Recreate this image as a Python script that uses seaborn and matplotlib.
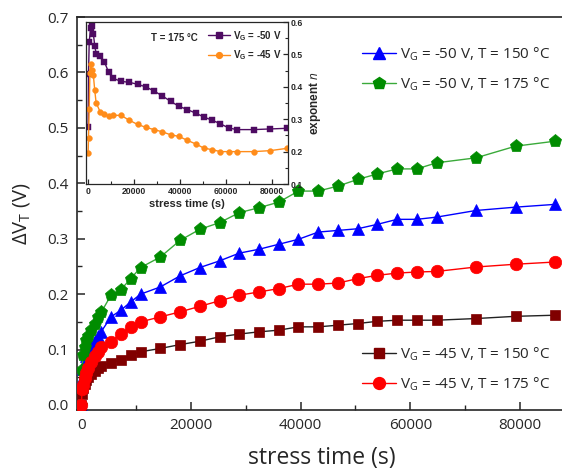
import numpy as np
import pandas as pd
import matplotlib
matplotlib.use("Agg")
import matplotlib.pyplot as plt
import seaborn as sns
from matplotlib.lines import Line2D
from matplotlib.ticker import MultipleLocator

# waktu stress (s)
t_early = [0, 120, 300, 600, 900, 1200, 1800, 2400, 3000, 3600]
t_late = [5400, 7200, 9000, 10800, 14400, 18000, 21600, 25200, 28800, 32400, 36000,
          39600, 43200, 46800, 50400, 54000, 57600, 61200, 64800, 72000, 79200, 86400]
time_main = t_early + t_late

# delta V_T (V)
dvt_45_150 = [0, 0.02, 0.03, 0.038, 0.045, 0.05, 0.056, 0.062, 0.067, 0.07,
              0.076, 0.082, 0.09, 0.096, 0.102, 0.109, 0.115, 0.123, 0.128, 0.132, 0.135,
              0.141, 0.141, 0.144, 0.147, 0.151, 0.153, 0.153, 0.153, 0.156, 0.16, 0.162]
dvt_45_175 = [0, 0.028, 0.036, 0.048, 0.058, 0.067, 0.078, 0.088, 0.096, 0.104,
              0.114, 0.129, 0.14, 0.15, 0.159, 0.168, 0.178, 0.188, 0.198, 0.204, 0.21,
              0.218, 0.218, 0.22, 0.228, 0.234, 0.238, 0.24, 0.241, 0.249, 0.254, 0.258]
dvt_50_150 = [0, 0.047, 0.065, 0.078, 0.088, 0.096, 0.105, 0.115, 0.125, 0.132,
              0.159, 0.171, 0.186, 0.2, 0.213, 0.233, 0.248, 0.26, 0.274, 0.281, 0.29,
              0.299, 0.312, 0.315, 0.318, 0.326, 0.335, 0.335, 0.339, 0.351, 0.357, 0.362]
dvt_50_175 = [0, 0.064, 0.09, 0.105, 0.117, 0.125, 0.135, 0.147, 0.158, 0.167,
              0.198, 0.208, 0.228, 0.248, 0.267, 0.297, 0.317, 0.329, 0.347, 0.356, 0.366,
              0.386, 0.386, 0.395, 0.407, 0.417, 0.426, 0.426, 0.437, 0.446, 0.467, 0.476]

# eksponen n (inset, T = 175 C)
t_n50 = [120, 300, 600, 1200, 1800, 2400, 3000, 3600] + t_late
n_50 = [0.277, 0.439, 0.538, 0.581, 0.588, 0.564, 0.527, 0.503,
        0.494, 0.477, 0.446, 0.427, 0.417, 0.414, 0.408, 0.4, 0.387, 0.372, 0.355,
        0.34, 0.33, 0.319, 0.307, 0.297, 0.286, 0.273, 0.268, 0.268, 0.27, 0.272]
t_n45 = [120, 300, 600, 900, 1200, 1800, 2400, 3000, 3600] + t_late
n_45 = [0.195, 0.242, 0.332, 0.444, 0.47, 0.452, 0.436, 0.39, 0.351,
        0.322, 0.315, 0.309, 0.312, 0.312, 0.297, 0.284, 0.275, 0.268, 0.261, 0.252,
        0.247, 0.235, 0.224, 0.211, 0.206, 0.2, 0.2, 0.2, 0.2, 0.203, 0.21]

sns.set_theme(style="ticks")
plt.rcParams.update({
    'font.family': ['Open Sans', 'DejaVu Sans'],
    'mathtext.fontset': 'custom',
    'mathtext.rm': 'Open Sans',
    'mathtext.it': 'Open Sans:italic',
    'xtick.direction': 'in',
    'ytick.direction': 'in',
    'axes.linewidth': 1.2,
})

fig = plt.figure(figsize=(5.62, 4.70), dpi=100)
ax = fig.add_axes([0.137, 0.1277, 0.87, 0.836])

series = [
    (dvt_50_150, '^', '#0000FF', '#0000FF', 9, r'V$_\mathregular{G}$ = -50 V, T = 150 °C'),
    (dvt_50_175, 'p', '#008C00', '#3AAA3A', 9.5, r'V$_\mathregular{G}$ = -50 V, T = 175 °C'),
    (dvt_45_150, 's', '#800000', '#222222', 7.5, r'V$_\mathregular{G}$ = -45 V, T = 150 °C'),
    (dvt_45_175, 'o', '#FF0000', '#FF0000', 9, r'V$_\mathregular{G}$ = -45 V, T = 175 °C'),
]
handles = []
for vals, mk, mc, lc, ms, lab in series:
    sns.lineplot(x=time_main, y=vals, ax=ax, color=lc, marker=mk, markersize=ms,
                 markerfacecolor=mc, markeredgecolor=mc, markeredgewidth=0.5,
                 linewidth=1.0, estimator=None, zorder=3)
    handles.append(Line2D([], [], color=lc, marker=mk, markersize=ms * 0.95,
                          markerfacecolor=mc, markeredgecolor=mc, linewidth=1.0, label=lab))

ax.set_xlim(-800, 88400)
ax.set_ylim(-0.009, 0.7)
ax.xaxis.set_major_locator(MultipleLocator(20000))
ax.xaxis.set_minor_locator(MultipleLocator(10000))
ax.yaxis.set_major_locator(MultipleLocator(0.1))
ax.yaxis.set_minor_locator(MultipleLocator(0.05))
ax.yaxis.set_major_formatter(plt.FormatStrFormatter('%.1f'))
ax.tick_params(which='major', length=6, width=1.1, labelsize=11, pad=6)
ax.tick_params(which='minor', length=3.5, width=1.0)
ax.tick_params(top=False, right=False, which='both')
ax.spines['right'].set_visible(False)
ax.set_xlabel('stress time (s)', fontsize=16.5, labelpad=9)
ax.set_ylabel(r'ΔV$_\mathregular{T}$ (V)', fontsize=14.5, labelpad=11)

leg1 = ax.legend(handles=handles[:2], loc='upper left', bbox_to_anchor=(0.555, 0.963),
                 frameon=False, fontsize=11, handlelength=2.2, handletextpad=0.3,
                 labelspacing=0.85)
ax.add_artist(leg1)
ax.legend(handles=handles[2:], loc='upper left', bbox_to_anchor=(0.555, 0.2),
          frameon=False, fontsize=11, handlelength=2.2, handletextpad=0.3,
          labelspacing=0.85)

# inset eksponen n
axin = fig.add_axes([0.153, 0.6085, 0.3595, 0.3445])
bold = {'family': ['Liberation Sans', 'DejaVu Sans'], 'weight': 'bold'}
sns.lineplot(x=t_n50, y=n_50, ax=axin, color='#4E0B62', marker='s', markersize=3.8,
             markeredgecolor='#4E0B62', markeredgewidth=0.3, linewidth=1.0, estimator=None)
sns.lineplot(x=t_n45, y=n_45, ax=axin, color='#FF8C1A', marker='o', markersize=4.2,
             markeredgecolor='#FF8C1A', markeredgewidth=0.3, linewidth=1.0, estimator=None)
axin.set_xlim(-800, 87000)
axin.set_ylim(0.1, 0.6)
axin.xaxis.set_major_locator(MultipleLocator(20000))
axin.xaxis.set_minor_locator(MultipleLocator(10000))
axin.yaxis.set_major_locator(MultipleLocator(0.1))
axin.yaxis.set_minor_locator(MultipleLocator(0.05))
axin.yaxis.set_major_formatter(plt.FormatStrFormatter('%.1f'))
axin.yaxis.tick_right()
axin.yaxis.set_label_position('right')
axin.tick_params(which='major', length=3.5, width=0.9, labelsize=6.2, pad=2)
axin.tick_params(which='minor', length=2, width=0.8)
axin.tick_params(left=False, which='both')
for lbl in axin.get_xticklabels() + axin.get_yticklabels():
    lbl.set_fontweight('bold')
    lbl.set_family(['Liberation Sans', 'DejaVu Sans'])
axin.set_xlabel('stress time (s)', fontdict=dict(bold, size=8), labelpad=2)
axin.set_ylabel('exponent $\\mathbf{\\it{n}}$', fontdict=dict(bold, size=8.5), labelpad=3)
for s in axin.spines.values():
    s.set_linewidth(0.9)

h_in = [Line2D([], [], color='#4E0B62', marker='s', markersize=3.8, linewidth=1.0,
               label=r'V$_\mathregular{G}$ = -50 V'),
        Line2D([], [], color='#FF8C1A', marker='o', markersize=4.2, linewidth=1.0,
               label=r'V$_\mathregular{G}$ = -45 V')]
leg_in = axin.legend(handles=h_in, loc='upper right', frameon=False,
                     prop={'family': ['Liberation Sans', 'DejaVu Sans'], 'weight': 'bold', 'size': 7},
                     handlelength=2.2, handletextpad=0.3, labelspacing=0.6, borderaxespad=0.3)
axin.text(0.32, 0.9, 'T = 175 °C', transform=axin.transAxes, fontdict=dict(bold, size=7),
          va='center', ha='left')

fig.savefig('out.png', dpi=100)
